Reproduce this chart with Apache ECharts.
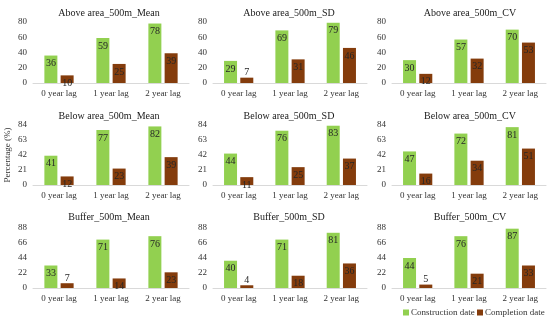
<!DOCTYPE html>
<html>
<head>
<meta charset="utf-8">
<script src="https://cdn.jsdelivr.net/npm/echarts@6/dist/echarts.min.js"></script>
<style>html,body{margin:0;padding:0;background:#fff}#c{width:550px;height:320px}</style>
</head>
<body>
<div id="c"></div>
<script>
const categories = ['0 year lag', '1 year lag', '2 year lag'];
const panelTitles = [
  'Above area_500m_Mean', 'Above area_500m_SD', 'Above area_500m_CV',
  'Below area_500m_Mean', 'Below area_500m_SD', 'Below area_500m_CV',
  'Buffer_500m_Mean', 'Buffer_500m_SD', 'Buffer_500m_CV'
];
const constructionDate = [
  [36, 59, 78], [29, 69, 79], [30, 57, 70],
  [41, 77, 82], [44, 76, 83], [47, 72, 81],
  [33, 71, 76], [40, 71, 81], [44, 76, 87]
];
const completionDate = [
  [10, 25, 39], [7, 31, 46], [12, 32, 53],
  [12, 23, 39], [11, 25, 37], [16, 34, 51],
  [7, 14, 23], [4, 18, 36], [5, 21, 33]
];
const rowMax = [80, 84, 88];
const rowInterval = [20, 21, 22];

const FONT = '"Liberation Serif", "Times New Roman", serif';
const colLeft = [33, 213, 392];
const colWidth = [156, 154, 154];
const colTitleX = [104, 284, 465];
const rowTop = [22, 125, 228];
const rowHeight = [61, 60, 60];
const rowTitleTop = [3, 106, 207];

const grids = [], xAxes = [], yAxes = [], series = [], titles = [];
for (let i = 0; i < 9; i++) {
  const r = Math.floor(i / 3), c = i % 3;
  grids.push({left: colLeft[c], top: rowTop[r], width: colWidth[c], height: rowHeight[r]});
  titles.push({
    text: panelTitles[i], left: colTitleX[c], top: rowTitleTop[r], textAlign: 'center',
    textStyle: {fontFamily: FONT, fontSize: 10, fontWeight: 'normal', color: '#1a1a1a'}
  });
  xAxes.push({
    type: 'category', gridIndex: i, data: categories,
    axisLine: {lineStyle: {color: '#d9d9d9'}}, axisTick: {show: false},
    axisLabel: {fontFamily: FONT, fontSize: 9, color: '#333', margin: 6}
  });
  const ya = {
    type: 'value', gridIndex: i, min: 0, max: rowMax[r], interval: rowInterval[r],
    splitLine: {show: false}, axisLine: {show: false}, axisTick: {show: false},
    axisLabel: {fontFamily: FONT, fontSize: 9, color: '#333', margin: 6}
  };
  if (i === 3) {
    Object.assign(ya, {name: 'Percentage (%)', nameLocation: 'middle', nameGap: 21,
      nameTextStyle: {fontFamily: FONT, fontSize: 9, color: '#333'}});
  }
  yAxes.push(ya);
  const lbl = (v) => ({
    show: true, position: v < 9 ? 'top' : 'insideTop', distance: v < 9 ? 0 : 3,
    fontFamily: FONT, fontSize: 10, color: '#262626'
  });
  series.push({
    name: 'Construction date', type: 'bar', xAxisIndex: i, yAxisIndex: i,
    barWidth: 13, barGap: '25%', itemStyle: {color: '#92D050'},
    data: constructionDate[i].map(v => ({value: v, label: lbl(v)}))
  });
  series.push({
    name: 'Completion date', type: 'bar', xAxisIndex: i, yAxisIndex: i,
    barWidth: 13, barGap: '25%', itemStyle: {color: '#843C0C'},
    data: completionDate[i].map(v => ({value: v, label: lbl(v)}))
  });
}

const legendText = {fontFamily: FONT, fontSize: 9, color: '#333', padding: [0, 0, 0, -3]};
const chart = echarts.init(document.getElementById('c'), null, {renderer: 'canvas'});
chart.setOption({
  animation: false,
  backgroundColor: '#fff',
  title: titles,
  grid: grids,
  xAxis: xAxes,
  yAxis: yAxes,
  legend: [
    {data: ['Construction date'], left: 403, top: 308, padding: 0, icon: 'rect', itemWidth: 6, itemHeight: 6, textStyle: legendText},
    {data: ['Completion date'], left: 477, top: 308, padding: 0, icon: 'rect', itemWidth: 6, itemHeight: 6, textStyle: legendText}
  ],
  series: series
});
</script>
</body>
</html>
